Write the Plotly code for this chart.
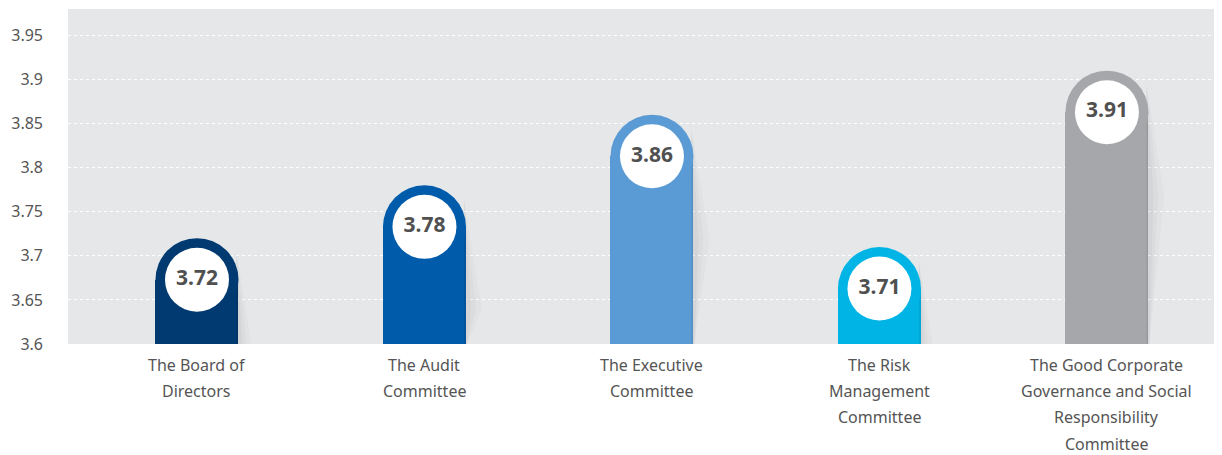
import plotly.graph_objects as go

categories = ["The Board of Directors", "The Audit Committee", "The Executive Committee",
              "The Risk Management Committee",
              "The Good Corporate Governance and Social Responsibility Committee"]
label_lines = [["The Board of", "Directors"],
               ["The Audit", "Committee"],
               ["The Executive", "Committee"],
               ["The Risk", "Management", "Committee"],
               ["The Good Corporate", "Governance and Social", "Responsibility", "Committee"]]
values = [3.72, 3.78, 3.86, 3.71, 3.91]
colors = ["#003a70", "#005baa", "#5b9bd5", "#00b5e6", "#a6a7aa"]
y_ticks = [3.6, 3.65, 3.7, 3.75, 3.8, 3.85, 3.9, 3.95]

# page body has an 8px default margin; size the figure to fit the window
OFF = 8
W, H = 1222 - OFF, 455 - OFF
ml, mr, mt, mb = 68 - OFF, 2, 9 - OFF, 111
y_range = [3.6, 3.98]
x_range = [-0.567, 4.497]
plot_w = W - ml - mr
plot_h = H - mt - mb
px_per_x = plot_w / (x_range[1] - x_range[0])
data_per_py = (y_range[1] - y_range[0]) / plot_h

bar_px = 83
bar_w = bar_px / px_per_x
ry = (bar_px / 2) * data_per_py
base = y_range[0]
xs = list(range(len(categories)))
cap_y = [v - ry for v in values]

fig = go.Figure()

# soft shadow on the right of each bar
for i, v in enumerate(values):
    xr = i + bar_w / 2
    for k, a in [(16, 0.02), (10, 0.025), (5, 0.03)]:
        fig.add_trace(go.Scatter(
            x=[xr - 2 / px_per_x, xr + k / px_per_x, xr + 1 / px_per_x, xr - 2 / px_per_x],
            y=[v - 0.3 * ry, cap_y[i] - 2 * ry, base, base],
            fill="toself", fillcolor=f"rgba(0,0,0,{a})", line=dict(width=0),
            mode="lines", hoverinfo="skip", showlegend=False))

fig.add_trace(go.Bar(
    x=xs, y=[c - base for c in cap_y], base=base, width=bar_w,
    marker=dict(color=colors, line=dict(width=0)), showlegend=False, hoverinfo="skip"))

fig.add_trace(go.Scatter(
    x=xs, y=cap_y, mode="markers",
    marker=dict(symbol="circle", size=bar_px, color=colors, line=dict(width=0)),
    showlegend=False, hoverinfo="skip"))

fig.add_trace(go.Scatter(
    x=xs, y=cap_y, mode="markers+text",
    marker=dict(symbol="circle", size=64, color="white", line=dict(width=0)),
    text=[f"<b>{v:.2f}</b>" for v in values], textposition="middle center",
    textfont=dict(family="Noto Sans", size=21, color="#505050"),
    showlegend=False, hoverinfo="skip"))

annotations = []
for i, lines in enumerate(label_lines):
    for k, line in enumerate(lines):
        annotations.append(dict(
            x=i, xref="x", y=0, yref="paper", yanchor="middle", xanchor="center",
            yshift=-(21 + 26.2 * k), text=line, showarrow=False, borderpad=0,
            font=dict(family="Noto Sans", size=16, color="#555555")))

fig.update_layout(
    width=W, height=H, margin=dict(l=ml, r=mr, t=mt, b=mb),
    paper_bgcolor="white", plot_bgcolor="#e6e7e9",
    bargap=0, annotations=annotations,
    xaxis=dict(range=x_range, showticklabels=False, showgrid=False, zeroline=False,
               fixedrange=True),
    yaxis=dict(range=y_range, tickvals=y_ticks, ticktext=[f"{t:g}" for t in y_ticks],
               showgrid=True, gridcolor="white", griddash="dot", gridwidth=1,
               zeroline=False, ticklabelstandoff=24,
               tickfont=dict(family="Noto Sans", size=16, color="#555555")),
)

fig.write_html("out.html")
